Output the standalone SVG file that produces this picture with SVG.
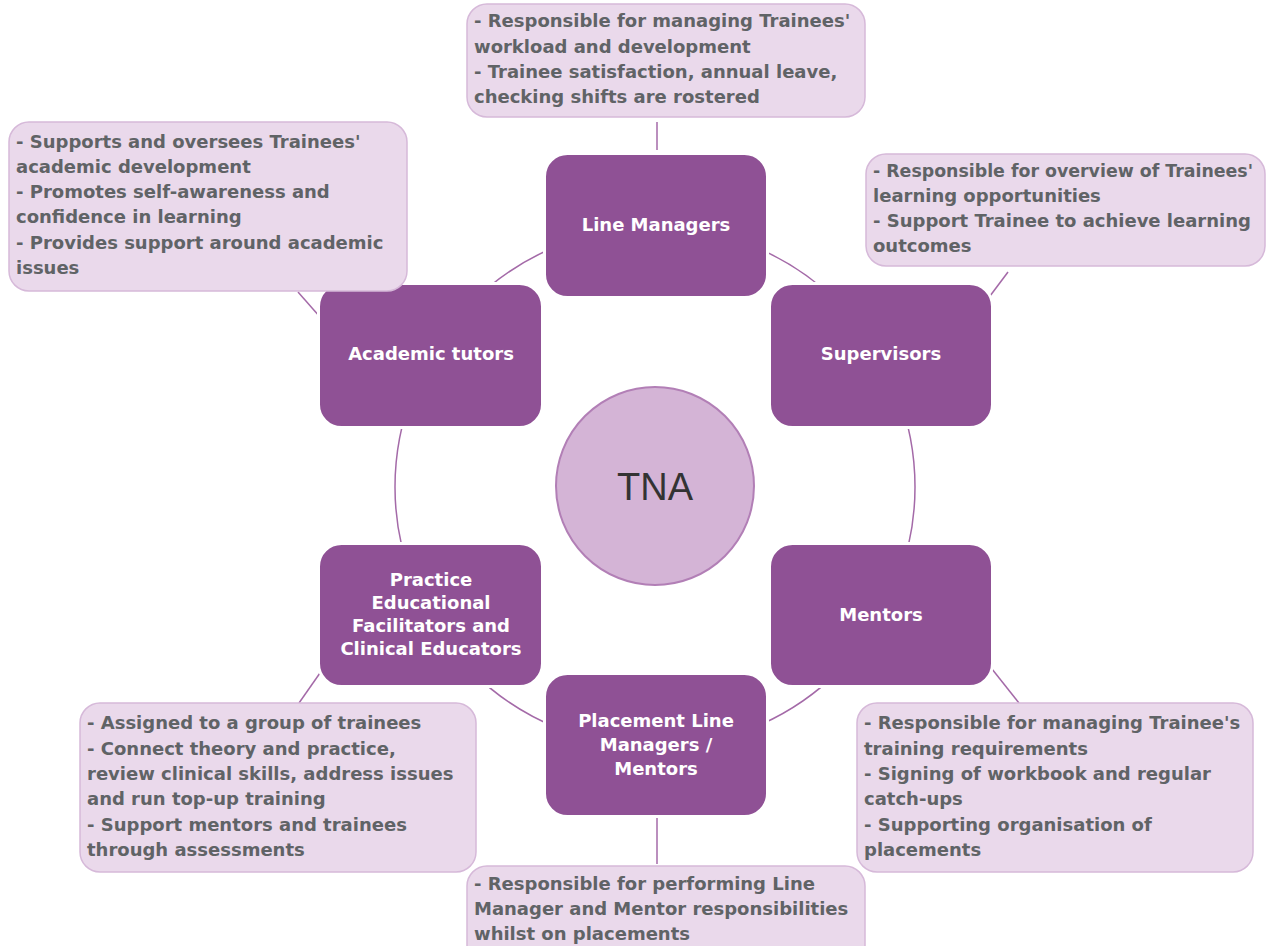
<svg xmlns="http://www.w3.org/2000/svg" width="1270" height="946" viewBox="0 0 1270 946">
<style>
.node{fill:#8f5195;stroke:#ffffff;stroke-width:3}
.nt{font-family:"DejaVu Sans","Liberation Sans",Arial,sans-serif;font-weight:bold;font-size:18px;fill:#ffffff;text-anchor:middle}
.call{fill:#ead9eb;stroke:#d6b9d9;stroke-width:1.5}
.ct{font-family:"DejaVu Sans","Liberation Sans",Arial,sans-serif;font-weight:bold;font-size:18px;fill:#606366}
.ring{fill:none;stroke:#a46aa8;stroke-width:1.5}
.con{stroke:#a46aa8;stroke-width:1.5;fill:none}
</style>
<rect width="1270" height="946" fill="#ffffff"/>
<g id="connectors">
<circle class="ring" cx="655" cy="487" r="260"/>
<line class="con" x1="657" y1="122" x2="657" y2="150"/>
<line class="con" x1="298" y1="292" x2="320" y2="317"/>
<line class="con" x1="1008" y1="272" x2="990" y2="296"/>
<line class="con" x1="320" y1="673" x2="299" y2="703"/>
<line class="con" x1="992" y1="669" x2="1019" y2="703"/>
<line class="con" x1="657" y1="818" x2="657" y2="864"/>
</g>
<g id="tna">
<circle cx="655" cy="486" r="99" fill="#d4b4d6" stroke="#b27fb6" stroke-width="2"/>
<text x="655" y="500" font-family="'Liberation Sans',Arial,sans-serif" font-size="38" fill="#333333" text-anchor="middle">TNA</text>
</g>
<g id="line-managers">
<rect class="node" x="544.5" y="153.5" width="223" height="144" rx="23"/>
<text class="nt" x="656" y="231">Line Managers</text>
</g>
<g id="supervisors">
<rect class="node" x="769.5" y="283.5" width="223" height="144" rx="23"/>
<text class="nt" x="881" y="360">Supervisors</text>
</g>
<g id="academic-tutors">
<rect class="node" x="318.5" y="283.5" width="224" height="144" rx="23"/>
<text class="nt" x="431" y="360">Academic tutors</text>
</g>
<g id="mentors">
<rect class="node" x="769.5" y="543.5" width="223" height="143" rx="23"/>
<text class="nt" x="881" y="621">Mentors</text>
</g>
<g id="practice-educational">
<rect class="node" x="318.5" y="543.5" width="224" height="143" rx="23"/>
<text class="nt" x="431" y="586">Practice</text>
<text class="nt" x="431" y="609">Educational</text>
<text class="nt" x="431" y="632">Facilitators and</text>
<text class="nt" x="431" y="655">Clinical Educators</text>
</g>
<g id="placement-line-managers">
<rect class="node" x="544.5" y="673.5" width="223" height="143" rx="23"/>
<text class="nt" x="656" y="727">Placement Line</text>
<text class="nt" x="656" y="751">Managers /</text>
<text class="nt" x="656" y="775">Mentors</text>
</g>
<g id="callout-line-managers">
<rect class="call" x="467" y="4" width="398" height="113" rx="20"/>
<text class="ct" x="474" y="27">- Responsible for managing Trainees'</text>
<text class="ct" x="474" y="53">workload and development</text>
<text class="ct" x="474" y="78">- Trainee satisfaction, annual leave,</text>
<text class="ct" x="474" y="103">checking shifts are rostered</text>
</g>
<g id="callout-academic-tutors">
<rect class="call" x="9" y="122" width="398" height="169" rx="20"/>
<text class="ct" x="16" y="148">- Supports and oversees Trainees'</text>
<text class="ct" x="16" y="173">academic development</text>
<text class="ct" x="16" y="198">- Promotes self-awareness and</text>
<text class="ct" x="16" y="223">confidence in learning</text>
<text class="ct" x="16" y="249">- Provides support around academic</text>
<text class="ct" x="16" y="274">issues</text>
</g>
<g id="callout-supervisors">
<rect class="call" x="866" y="154" width="399" height="112" rx="20"/>
<text class="ct" x="873" y="177" textLength="380" lengthAdjust="spacingAndGlyphs">- Responsible for overview of Trainees'</text>
<text class="ct" x="873" y="202">learning opportunities</text>
<text class="ct" x="873" y="227">- Support Trainee to achieve learning</text>
<text class="ct" x="873" y="252">outcomes</text>
</g>
<g id="callout-practice">
<rect class="call" x="80" y="703" width="396" height="169" rx="20"/>
<text class="ct" x="87" y="729">- Assigned to a group of trainees</text>
<text class="ct" x="87" y="755">- Connect theory and practice,</text>
<text class="ct" x="87" y="780">review clinical skills, address issues</text>
<text class="ct" x="87" y="805">and run top-up training</text>
<text class="ct" x="87" y="831">- Support mentors and trainees</text>
<text class="ct" x="87" y="856">through assessments</text>
</g>
<g id="callout-mentors">
<rect class="call" x="857" y="703" width="396" height="169" rx="20"/>
<text class="ct" x="864" y="729">- Responsible for managing Trainee's</text>
<text class="ct" x="864" y="755">training requirements</text>
<text class="ct" x="864" y="780">- Signing of workbook and regular</text>
<text class="ct" x="864" y="805">catch-ups</text>
<text class="ct" x="864" y="831">- Supporting organisation of</text>
<text class="ct" x="864" y="856">placements</text>
</g>
<g id="callout-placement">
<rect class="call" x="467" y="866" width="398" height="100" rx="20"/>
<text class="ct" x="474" y="890">- Responsible for performing Line</text>
<text class="ct" x="474" y="915">Manager and Mentor responsibilities</text>
<text class="ct" x="474" y="940">whilst on placements</text>
</g>
</svg>
